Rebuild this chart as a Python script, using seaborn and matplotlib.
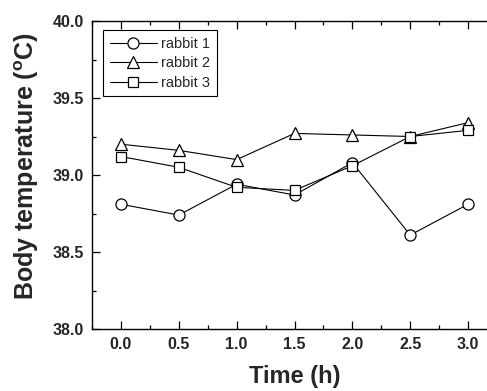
import numpy as np
import pandas as pd
import matplotlib
matplotlib.use("Agg")
import matplotlib.pyplot as plt
import seaborn as sns
from matplotlib.ticker import MultipleLocator, FormatStrFormatter

time_h = [0.0, 0.5, 1.0, 1.5, 2.0, 2.5, 3.0]
rabbit1 = [38.81, 38.74, 38.94, 38.87, 39.08, 38.61, 38.81]
rabbit2 = [39.20, 39.16, 39.10, 39.27, 39.26, 39.25, 39.34]
rabbit3 = [39.12, 39.05, 38.92, 38.90, 39.06, 39.25, 39.29]
labels = ["rabbit 1", "rabbit 2", "rabbit 3"]
markers = ["o", "^", "s"]

sns.set_style("ticks")
plt.rcParams["font.family"] = ["Liberation Sans", "DejaVu Sans"]
plt.rcParams["mathtext.fontset"] = "custom"
plt.rcParams["mathtext.rm"] = "Liberation Sans:bold"
plt.rcParams["mathtext.bf"] = "Liberation Sans:bold"

fig = plt.figure(figsize=(4.87, 3.91), dpi=100)
# right spine sits just past the image edge, as in the reference
ax = fig.add_axes([92 / 487, 62 / 391, 405 / 487, 308 / 391])

sizes = [8, 8.5, 7]
for i, (vals, lab, mk) in enumerate(zip([rabbit1, rabbit2, rabbit3], labels, markers)):
    sns.lineplot(x=time_h, y=vals, ax=ax, color="black", lw=0.8, marker=mk,
                 markersize=sizes[i], markerfacecolor="white", markeredgecolor="black",
                 markeredgewidth=0.9, label=lab, zorder=3 + i)

ax.set_xlim(-0.25, 3.25)
ax.set_ylim(38.0, 40.0)
ax.xaxis.set_major_locator(MultipleLocator(0.5))
ax.xaxis.set_minor_locator(MultipleLocator(0.25))
ax.yaxis.set_major_locator(MultipleLocator(0.5))
ax.yaxis.set_minor_locator(MultipleLocator(0.25))
ax.xaxis.set_major_formatter(FormatStrFormatter("%.1f"))
ax.yaxis.set_major_formatter(FormatStrFormatter("%.1f"))

ax.tick_params(which="both", direction="in", top=True, right=False, color="black", width=0.9)
ax.tick_params(which="major", length=6, labelsize=11.5, pad=6)
ax.tick_params(which="minor", length=3)
for lbl in ax.get_xticklabels() + ax.get_yticklabels():
    lbl.set_fontweight("bold")
for sp in ax.spines.values():
    sp.set_linewidth(1.0)
    sp.set_color("black")

ax.set_xlabel("Time (h)", fontsize=17, fontweight="bold", labelpad=9)
ax.set_ylabel(r"Body temperature ($^\mathbf{o}$C)", fontsize=18, fontweight="bold")
ax.yaxis.set_label_coords(-0.127, 0.53)

leg = ax.legend(loc="upper left", bbox_to_anchor=(0.028, 0.97), fontsize=10.5,
                frameon=True, fancybox=False, edgecolor="black", framealpha=1,
                handlelength=3.2, borderpad=0.45, labelspacing=0.38, handletextpad=0.3,
                borderaxespad=0)
leg.get_frame().set_linewidth(0.8)

fig.savefig("out.png", dpi=100)
